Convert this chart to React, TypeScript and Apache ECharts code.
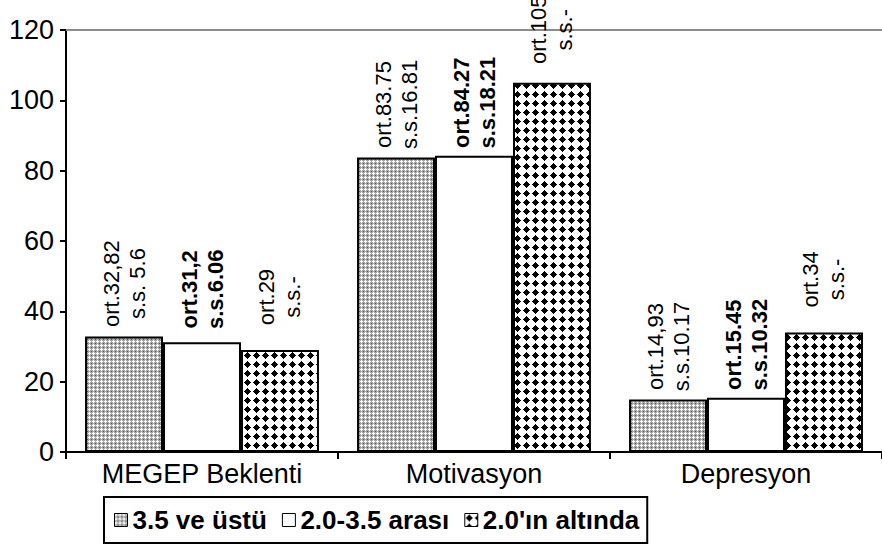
import React, { useEffect, useRef } from "react";
import * as echarts from "echarts";

const categories = ["MEGEP Beklenti", "Motivasyon", "Depresyon"];
const seriesNames = ["3.5 ve üstü", "2.0-3.5 arası", "2.0'ın altında"];

const valuesHigh = [32.82, 83.75, 14.93];
const valuesMid = [31.2, 84.27, 15.45];
const valuesLow = [29, 105, 34];

const ortHigh = ["ort.32,82", "ort.83.75", "ort.14,93"];
const ssHigh = ["s.s. 5.6", "s.s.16.81", "s.s.10.17"];
const ortMid = ["ort.31,2", "ort.84.27", "ort.15.45"];
const ssMid = ["s.s.6.06", "s.s.18.21", "s.s.10.32"];
const ortLow = ["ort.29", "ort.105", "ort.34"];
const ssLow = ["s.s.-", "s.s.-", "s.s.-"];

const yTicks = { min: 0, max: 120, interval: 20 };

const FONT = "'Liberation Sans', Arial, Helvetica, sans-serif";

function makeGreyPattern(): HTMLCanvasElement {
  const c = document.createElement("canvas");
  c.width = 4;
  c.height = 4;
  const ctx = c.getContext("2d")!;
  ctx.fillStyle = "#a6a6a6";
  ctx.fillRect(0, 0, 4, 4);
  ctx.fillStyle = "#ffffff";
  [[1, 0], [0, 1], [1, 1], [2, 1], [1, 2]].forEach(([x, y]) => ctx.fillRect(x, y, 1, 1));
  ctx.fillStyle = "#555555";
  ctx.fillRect(3, 3, 1, 1);
  return c;
}

function makeDiamondPattern(): HTMLCanvasElement {
  const s = 9;
  const c = document.createElement("canvas");
  c.width = s;
  c.height = s;
  const ctx = c.getContext("2d")!;
  ctx.fillStyle = "#ffffff";
  ctx.fillRect(0, 0, s, s);
  ctx.fillStyle = "#000000";
  const cx = s / 2;
  for (let y = 0; y < s; y++) {
    for (let x = 0; x < s; x++) {
      if (Math.abs(x + 0.5 - cx) + Math.abs(y + 0.5 - cx) <= 3.9) ctx.fillRect(x, y, 1, 1);
    }
  }
  return c;
}

function makeLabel(ort: string[], ss: string[], bold: boolean) {
  return {
    show: true,
    position: "top",
    distance: 3,
    rotate: 90,
    align: "left",
    verticalAlign: "middle",
    formatter: (p: any) => `{a|${ort[p.dataIndex]}}\n{a|${ss[p.dataIndex]}}`,
    rich: {
      a: {
        width: 100,
        align: "center",
        fontSize: 22,
        lineHeight: 26,
        fontFamily: FONT,
        fontWeight: bold ? "bold" : "normal",
        color: "#000",
      },
    },
  };
}

export default function App() {
  const ref = useRef<HTMLDivElement>(null);

  useEffect(() => {
    if (!ref.current) return;
    const chart = echarts.init(ref.current, null, { renderer: "svg" });
    const grey = { image: makeGreyPattern(), repeat: "repeat" };
    const diamonds = { image: makeDiamondPattern(), repeat: "repeat" };

    const option: any = {
      animation: false,
      backgroundColor: "#ffffff",
      textStyle: { fontFamily: FONT },
      grid: { left: 66, right: 0, top: 30, bottom: 94, containLabel: false },
      legend: {
        left: 104,
        top: 497,
        orient: "horizontal",
        data: seriesNames.map((n) => ({ name: n, icon: "rect" })),
        borderColor: "#000",
        borderWidth: 2,
        padding: [8, 8, 8, 10],
        itemWidth: 13,
        itemHeight: 13,
        itemGap: 15,
        itemTextGap: 6,
        itemStyle: { borderWidth: 1, borderColor: "#000" },
        textStyle: { fontSize: 26, fontWeight: "bold", color: "#000", fontFamily: FONT, lineHeight: 30 },
      },
      xAxis: [
        {
          type: "category",
          data: categories,
          axisLine: { lineStyle: { color: "#000", width: 2 } },
          axisTick: { show: true, length: 7, lineStyle: { color: "#000", width: 2 } },
          axisLabel: { fontSize: 27, color: "#000", margin: 8, fontFamily: FONT },
          splitLine: { show: false },
        },
        {
          type: "category",
          data: categories,
          position: "top",
          axisLine: { lineStyle: { color: "#8c8c8c", width: 2 } },
          axisTick: { show: false },
          axisLabel: { show: false },
          splitLine: { show: false },
        },
      ],
      yAxis: {
        type: "value",
        min: yTicks.min,
        max: yTicks.max,
        interval: yTicks.interval,
        axisLine: { show: true, lineStyle: { color: "#000", width: 2 } },
        axisTick: { show: true, length: 6, lineStyle: { color: "#000", width: 2 } },
        axisLabel: { fontSize: 27, color: "#000", margin: 12, fontFamily: FONT },
        splitLine: { show: false },
      },
      series: [
        {
          name: seriesNames[0],
          type: "bar",
          data: valuesHigh,
          barGap: "0%",
          barCategoryGap: "14%",
          itemStyle: { color: grey, borderColor: "#000", borderWidth: 2 },
          label: makeLabel(ortHigh, ssHigh, false),
        },
        {
          name: seriesNames[1],
          type: "bar",
          data: valuesMid,
          barGap: "0%",
          barCategoryGap: "14%",
          itemStyle: { color: "#ffffff", borderColor: "#000", borderWidth: 2 },
          label: makeLabel(ortMid, ssMid, true),
        },
        {
          name: seriesNames[2],
          type: "bar",
          data: valuesLow,
          barGap: "0%",
          barCategoryGap: "14%",
          itemStyle: { color: diamonds, borderColor: "#000", borderWidth: 2 },
          label: makeLabel(ortLow, ssLow, false),
        },
      ],
    };
    chart.setOption(option);
    return () => chart.dispose();
  }, []);

  return (
    <div
      ref={ref}
      style={{ position: "fixed", left: 0, top: 0, width: 882, height: 546, background: "#fff" }}
    />
  );
}
